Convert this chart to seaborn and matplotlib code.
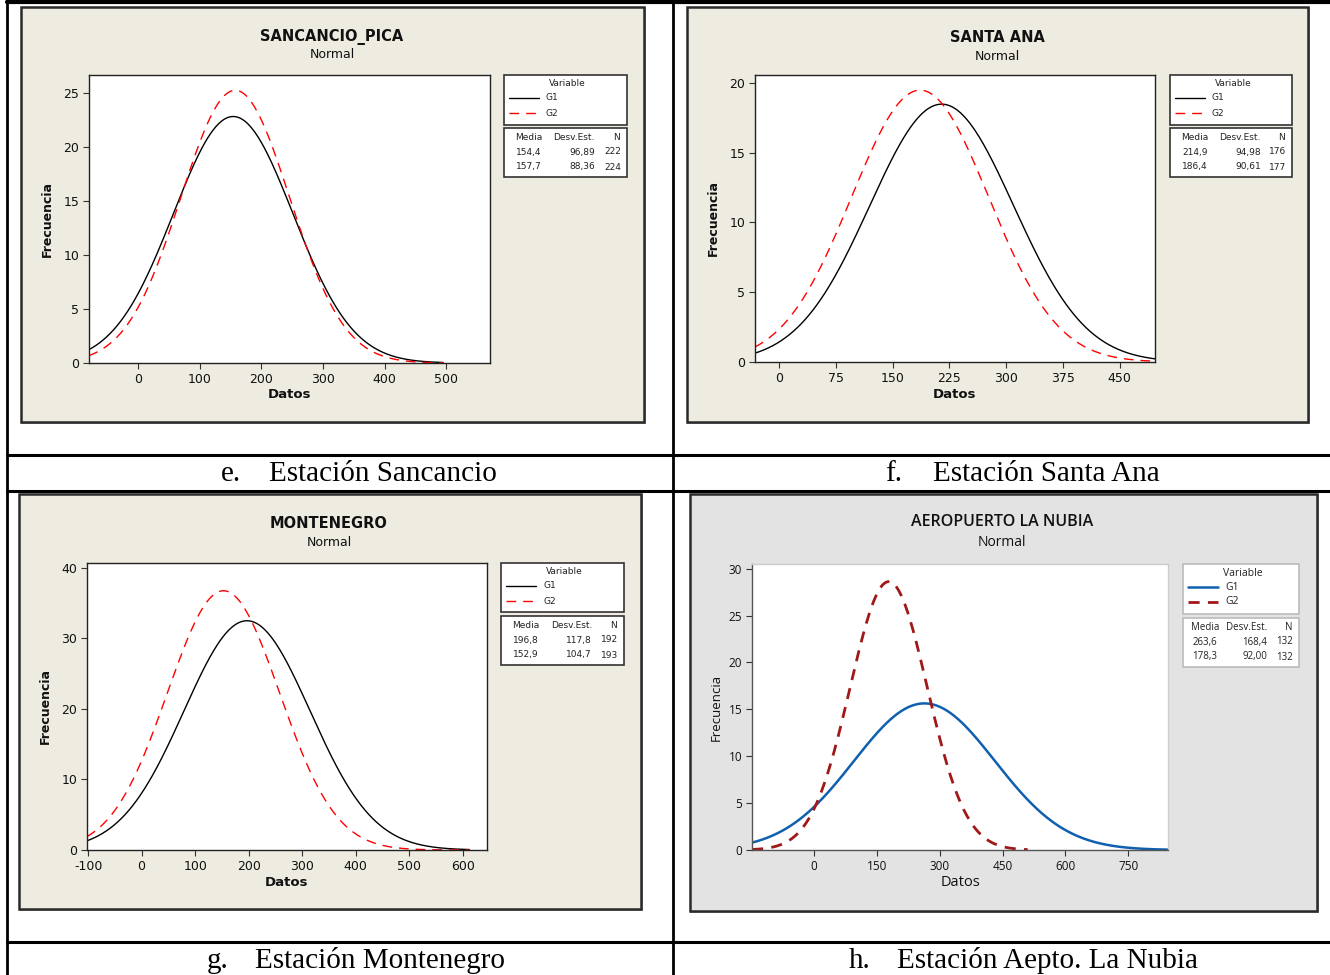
import numpy as np
import pandas as pd
import matplotlib
matplotlib.use("Agg")
import matplotlib.pyplot as plt
from matplotlib.patches import Rectangle
from matplotlib.lines import Line2D
import seaborn as sns

sns.set_theme(style="white")
plt.rcParams['font.family'] = ['DejaVu Sans']
plt.rcParams['axes.unicode_minus'] = False

W, H = 1330, 975

# ---------------- data ----------------
titles = ["SANCANCIO_PICA", "SANTA ANA", "MONTENEGRO", "AEROPUERTO LA NUBIA"]
cap_letters = ["e.", "f.", "g.", "h."]
cap_names = ["Estación Sancancio", "Estación Santa Ana",
             "Estación Montenegro", "Estación Aepto. La Nubia"]
groups = ["G1", "G2"]
media = [[154.4, 157.7], [214.9, 186.4], [196.8, 152.9], [263.6, 178.3]]
desv = [[96.89, 88.36], [94.98, 90.61], [117.8, 104.7], [168.4, 92.00]]
n_obs = [[222, 224], [176, 177], [192, 193], [132, 132]]
media_txt = [["154,4", "157,7"], ["214,9", "186,4"], ["196,8", "152,9"], ["263,6", "178,3"]]
desv_txt = [["96,89", "88,36"], ["94,98", "90,61"], ["117,8", "104,7"], ["168,4", "92,00"]]
bin_width = [25, 25, 50, 50]
curve_range = [[(-80, 495), (-80, 495)], [(-32, 497), (-32, 497)],
               [(-102, 612), (-102, 612)], [(-148, 845), (-148, 510)]]
xticks = [[0, 100, 200, 300, 400, 500], [0, 75, 150, 225, 300, 375, 450],
          [-100, 0, 100, 200, 300, 400, 500, 600], [0, 150, 300, 450, 600, 750]]
yticks = [[0, 5, 10, 15, 20, 25], [0, 5, 10, 15, 20], [0, 10, 20, 30, 40],
          [0, 5, 10, 15, 20, 25, 30]]
xlims = [(-79.5, 571), (-31.7, 496.7), (-102, 645), (-148, 845)]
ylims = [(0, 26.7), (0, 20.57), (0, 40.7), (0, 30.5)]

# ---------------- layout (pixels) ----------------
frames = [(21, 7, 644, 422), (687, 7, 1308, 422), (19, 494, 641, 909), (690, 494, 1317, 911)]
plots = [(89, 75, 490, 363), (755, 75, 1155, 362), (87, 563, 487, 850), (752, 564, 1168, 850)]
legs = [(504, 75, 627, 125), (1170, 75, 1292, 125), (501, 563, 624, 612), (1183, 564, 1299, 614)]
stats = [(504, 128, 627, 177), (1170, 128, 1292, 177), (501, 616, 624, 665), (1183, 618, 1299, 667)]
title_xy = [(332, 37, 55), (997, 37, 56), (329, 523, 542), (1002, 522, 542)]
ylab_x = [47, 713, 45, 716]
xlab_y = [395, 395, 882, 882]
cap_xy = [(221, 269, 474), (885, 933, 474), (207, 255, 961), (849, 897, 961)]
bgcol = ['#EEEBE1', '#EEEBE1', '#EEEBE1', '#E3E3E3']
colors = [['black', '#FF0000']] * 3 + [['#1060B0', '#A01818']]
lws = [[1.0, 1.0]] * 3 + [[1.8, 2.0]]
dash = [(7, 5)] * 3 + [(4, 3)]
media_off = [25, 25, 25, 22]
desv_off = [91, 91, 91, 84]
stat_fs = [6.5, 6.5, 6.5, 7.0]

fig = plt.figure(figsize=(W / 100, H / 100), dpi=100)
fig.patch.set_facecolor('white')
bg = fig.add_axes([0, 0, 1, 1], zorder=0)
bg.set_xlim(0, W)
bg.set_ylim(H, 0)
bg.axis('off')

# table lines
for x in [7, 673]:
    bg.add_line(Line2D([x, x], [0, H], color='black', lw=2))
bg.add_line(Line2D([7, W], [2, 2], color='black', lw=3))
for y in [455, 491, 942]:
    bg.add_line(Line2D([7, W], [y, y], color='black', lw=2.2))

for i in range(4):
    modern = (i == 3)
    fam = 'Open Sans' if modern else 'DejaVu Sans'
    x0, y0, x1, y1 = frames[i]
    # shadow + frame
    bg.add_patch(Rectangle((x0, y0), x1 - x0 + 2, y1 - y0 + 2, facecolor='#A0A0A0', edgecolor='none'))
    bg.add_patch(Rectangle((x0, y0), x1 - x0, y1 - y0, facecolor=bgcol[i], edgecolor='#2A2A2A', lw=1.8))
    tx, ty1, ty2 = title_xy[i]
    bg.text(tx, ty1, titles[i], ha='center', va='center', fontsize=10.5 if not modern else 11.5,
            fontweight='bold' if not modern else 'semibold', family=fam, color='#111111')
    bg.text(tx, ty2, "Normal", ha='center', va='center', fontsize=9 if not modern else 10,
            family=fam, color='#111111')
    px0, py0, px1, py1 = plots[i]
    bg.text(ylab_x[i], (py0 + py1) / 2, "Frecuencia", rotation=90, ha='center', va='center',
            fontsize=9 if not modern else 9.5, fontweight='bold' if not modern else 'normal',
            family=fam, color='#111111')
    bg.text((px0 + px1) / 2, xlab_y[i], "Datos", ha='center', va='center',
            fontsize=9.5 if not modern else 10.5, fontweight='bold' if not modern else 'normal',
            family=fam, color='#111111')
    # legend box
    lx0, ly0, lx1, ly1 = legs[i]
    bg.add_patch(Rectangle((lx0, ly0), lx1 - lx0, ly1 - ly0, facecolor='white',
                           edgecolor='#333333' if not modern else '#BBBBBB', lw=1.2))
    bg.text((lx0 + lx1) / 2 + 2, ly0 + 9, "Variable", ha='center', va='center',
            fontsize=6.5 if not modern else 7.5, family=fam, color='#222222')
    for g in range(2):
        yy = ly0 + 23 + 15 * g
        ls = '-' if g == 0 else (0, dash[i])
        bg.add_line(Line2D([lx0 + 5, lx0 + 35], [yy, yy], color=colors[i][g], lw=lws[i][g],
                           linestyle=ls))
        bg.text(lx0 + 42, yy, groups[g], ha='left', va='center',
                fontsize=6.5 if not modern else 7.5, family=fam, color='#222222')
    # stats box
    sx0, sy0, sx1, sy1 = stats[i]
    bg.add_patch(Rectangle((sx0, sy0), sx1 - sx0, sy1 - sy0, facecolor='white',
                           edgecolor='#333333' if not modern else '#BBBBBB', lw=1.2))
    fs = stat_fs[i]
    bg.text(sx0 + media_off[i], sy0 + 9, "Media", ha='center', va='center', fontsize=fs, family=fam, color='#222222')
    bg.text(sx0 + desv_off[i], sy0 + 9, "Desv.Est.", ha='right', va='center', fontsize=fs, family=fam, color='#222222')
    bg.text(sx1 - 7, sy0 + 9, "N", ha='right', va='center', fontsize=fs, family=fam, color='#222222')
    for g in range(2):
        yy = sy0 + 24 + 15 * g
        bg.text(sx0 + media_off[i], yy, media_txt[i][g], ha='center', va='center', fontsize=fs, family=fam, color='#222222')
        bg.text(sx0 + desv_off[i], yy, desv_txt[i][g], ha='right', va='center', fontsize=fs, family=fam, color='#222222')
        bg.text(sx1 - 6, yy, str(n_obs[i][g]), ha='right', va='center', fontsize=fs, family=fam, color='#222222')
    # caption
    clx, cnx, cy = cap_xy[i]
    bg.text(clx, cy, cap_letters[i], ha='left', va='center', fontsize=21,
            family='Liberation Serif', color='black')
    bg.text(cnx, cy, cap_names[i], ha='left', va='center', fontsize=21,
            family='Liberation Serif', color='black')

    # plot axes
    ax = fig.add_axes([px0 / W, 1 - py1 / H, (px1 - px0) / W, (py1 - py0) / H], zorder=2)
    ax.set_facecolor('white')
    rows = []
    for g in range(2):
        a, b = curve_range[i][g]
        xs = np.linspace(a, b, 400)
        mu, sd, nn = media[i][g], desv[i][g], n_obs[i][g]
        ys = nn * bin_width[i] * np.exp(-0.5 * ((xs - mu) / sd) ** 2) / (sd * np.sqrt(2 * np.pi))
        rows.append(pd.DataFrame({'Datos': xs, 'Frecuencia': ys, 'Variable': groups[g]}))
    df = pd.concat(rows, ignore_index=True)
    sns.lineplot(data=df, x='Datos', y='Frecuencia', hue='Variable', style='Variable',
                 palette=colors[i], dashes=['', dash[i]],
                 size='Variable', sizes=lws[i], ax=ax, legend=False, sort=False)
    ax.set_xlim(*xlims[i])
    ax.set_ylim(*ylims[i])
    ax.set_xticks(xticks[i])
    ax.set_yticks(yticks[i])
    ax.set_xlabel('')
    ax.set_ylabel('')
    for s in ax.spines.values():
        s.set_color('#222222' if not modern else '#CCCCCC')
        s.set_linewidth(1.0)
    if modern:
        ax.spines['left'].set_color('#555555')
        ax.spines['bottom'].set_color('#555555')
    ax.tick_params(axis='both', direction='out', length=4, width=0.8, color='#333333',
                   labelsize=9 if not modern else 8.5, labelcolor='#111111', pad=3,
                   bottom=True, left=True)
    for lab in ax.get_xticklabels() + ax.get_yticklabels():
        lab.set_family(fam)

fig.savefig('out.png', dpi=100)
